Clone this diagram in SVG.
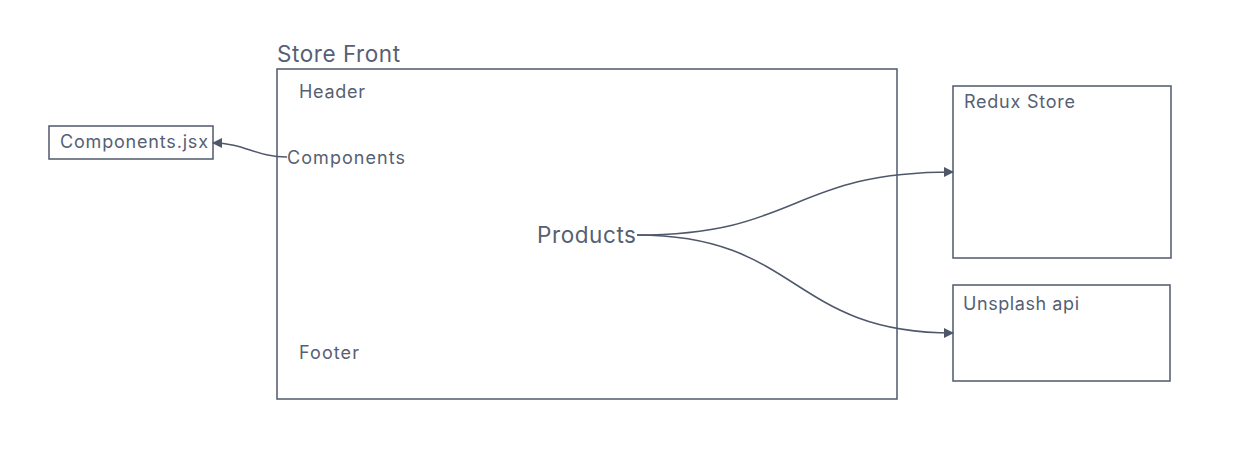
<svg xmlns="http://www.w3.org/2000/svg" width="1243" height="453" viewBox="0 0 1243 453">
<style>
.box{fill:#fff;stroke:#4f586b;stroke-width:1.5}
.t{font-family:Inter,"Liberation Sans",sans-serif;fill:#565f73}
.s{font-size:18px}
.l{font-size:22.5px}
.c{fill:none;stroke:#4f586b;stroke-width:1.5}
</style>
<defs>
<marker id="arr" markerWidth="10" markerHeight="10" refX="9" refY="5" orient="auto" markerUnits="userSpaceOnUse">
<path d="M0,0 L10,5 L0,10 Z" fill="#4f586b"/>
</marker>
</defs>
<rect width="1243" height="453" fill="#fff"/>
<g id="store-front">
<text class="t l" x="277" y="62" textLength="123" lengthAdjust="spacing">Store Front</text>
<rect class="box" x="277" y="69" width="620" height="330"/>
<text class="t s" x="299" y="98" textLength="66" lengthAdjust="spacing">Header</text>
<text class="t s" x="287" y="164" textLength="118" lengthAdjust="spacing">Components</text>
<text class="t l" x="537" y="243" textLength="99" lengthAdjust="spacing">Products</text>
<text class="t s" x="299" y="359" textLength="60" lengthAdjust="spacing">Footer</text>
</g>
<g id="components-jsx">
<rect class="box" x="49" y="126" width="164" height="33"/>
<text class="t s" x="60" y="148" textLength="148" lengthAdjust="spacing">Components.jsx</text>
</g>
<g id="redux-store">
<rect class="box" x="953" y="86" width="218" height="172"/>
<text class="t s" x="964" y="108" textLength="111" lengthAdjust="spacing">Redux Store</text>
</g>
<g id="unsplash-api">
<rect class="box" x="953" y="285" width="217" height="96"/>
<text class="t s" x="963" y="310" textLength="116" lengthAdjust="spacing">Unsplash api</text>
</g>
<g id="connectors">
<path class="c" d="M287,157 C255,157 245,143 213,143" marker-end="url(#arr)"/>
<path class="c" d="M637,235 C800,235 790,172 953,172" marker-end="url(#arr)"/>
<path class="c" d="M637,235 C800,235 790,333 953,333" marker-end="url(#arr)"/>
</g>
</svg>
